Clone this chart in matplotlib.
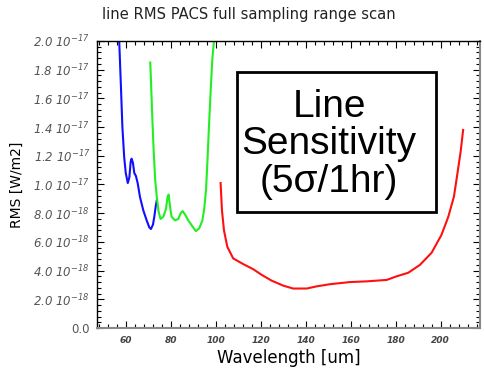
import matplotlib
matplotlib.use("Agg")
import matplotlib.pyplot as plt
from matplotlib.patches import Rectangle
from matplotlib.ticker import MultipleLocator, FuncFormatter

plt.rcParams["mathtext.fontset"] = "custom"
plt.rcParams["mathtext.rm"] = "DejaVu Sans:italic"
plt.rcParams["mathtext.it"] = "DejaVu Sans:italic"
plt.rcParams["mathtext.default"] = "rm"

# RMS in units of 1e-18 W/m2, wavelength in um
blue_wl = [56.8, 57.0, 57.8, 58.4, 59.2, 59.9, 60.8, 61.5, 62.1, 62.5, 63.1, 63.7,
           64.4, 65.2, 66.2, 67.7, 69.2, 70.4, 71.1, 72.0, 72.6, 73.2, 73.7]
blue_rms = [20.5, 19.95, 16.6, 14.0, 11.9, 10.8, 10.1, 10.5, 11.6, 11.8, 11.5, 10.8,
            10.6, 10.1, 9.15, 8.2, 7.5, 7.0, 6.9, 7.2, 7.75, 8.45, 8.9]

green_wl = [70.8, 71.1, 71.7, 72.3, 73.0, 73.7, 74.5, 75.4, 76.6, 77.8, 78.5, 79.0,
            79.6, 80.3, 81.8, 83.3, 84.3, 85.2, 86.3, 87.7, 89.7, 91.1, 92.6, 94.0,
            94.8, 95.6, 96.2, 96.9, 97.7, 98.4, 99.1, 99.3]
green_rms = [18.5, 17.3, 14.7, 12.4, 10.3, 9.15, 8.1, 7.6, 7.75, 8.3, 9.15, 9.3,
             8.45, 7.75, 7.5, 7.6, 8.0, 8.15, 7.9, 7.5, 7.05, 6.75, 6.95, 7.5,
             8.3, 9.6, 11.5, 14.0, 16.6, 18.7, 19.95, 20.5]

red_wl = [102.1, 102.7, 103.6, 105.1, 107.7, 112.2, 116.6, 120.4, 124.8, 130.0,
          134.4, 140.4, 144.8, 150.7, 159.6, 167.1, 176.0, 180.4, 185.6, 190.8,
          196.0, 200.4, 203.4, 205.9, 207.4, 208.9, 210.0]
red_rms = [10.1, 8.2, 6.8, 5.65, 4.85, 4.45, 4.1, 3.7, 3.3, 2.95,
           2.75, 2.75, 2.9, 3.05, 3.2, 3.25, 3.35, 3.6, 3.85, 4.4,
           5.25, 6.5, 7.75, 9.15, 10.7, 12.3, 13.8]

fig = plt.figure(figsize=(4.84, 3.74), dpi=100)
ax = fig.add_axes([0.2004, 0.123, 0.7913, 0.7674])

for wl, rms, col in [(blue_wl, blue_rms, "#1010ff"),
                     (green_wl, green_rms, "#22ee22"),
                     (red_wl, red_rms, "#ff1010")]:
    ax.plot(wl, [v * 1e-18 for v in rms], color=col, lw=1.5)

ax.set_xlim(47.1, 217.5)
ax.set_ylim(0, 2.0e-17)

ax.xaxis.set_major_locator(MultipleLocator(20))
ax.xaxis.set_minor_locator(MultipleLocator(4))
ax.yaxis.set_major_locator(MultipleLocator(2e-18))
ax.yaxis.set_minor_locator(MultipleLocator(4e-19))


def yfmt(v, pos):
    if abs(v) < 1e-30:
        return "0.0"
    exp = -17 if v >= 9.99e-18 else -18
    return r"$%.1f\ 10^{%d}$" % (v / 10.0 ** exp, exp)


ax.yaxis.set_major_formatter(FuncFormatter(yfmt))
ax.tick_params(which="both", direction="in", top=True, right=True, width=0.8)
ax.tick_params(which="major", length=5)
ax.tick_params(which="minor", length=3)
ax.tick_params(axis="y", labelsize=8.5, labelcolor="#555555", pad=5)
ax.tick_params(axis="x", labelsize=6.5, labelcolor="#444444", pad=6)
for lbl in ax.get_xticklabels():
    lbl.set_fontstyle("italic")
    lbl.set_fontweight("bold")

for s in ["left", "top"]:
    ax.spines[s].set_color("black")
    ax.spines[s].set_linewidth(1.0)
for s in ["bottom", "right"]:
    ax.spines[s].set_color("#888888")
    ax.spines[s].set_linewidth(1.5)

ax.set_xlabel("Wavelength [um]", fontsize=12, labelpad=3)
ax.set_ylabel("RMS [W/m2]", fontsize=10, labelpad=7)
fig.text(0.515, 0.962, "line RMS PACS full sampling range scan",
         ha="center", va="center", fontsize=10.6, color="#222222")

ax.add_patch(Rectangle((0.3648, 0.403), 0.5202, 0.488, transform=ax.transAxes,
                       fill=False, edgecolor="black", lw=2, zorder=5))
ax.text(0.606, 0.640, "Line\nSensitivity\n(5σ/1hr)", transform=ax.transAxes,
        ha="center", va="center", multialignment="center", fontsize=28,
        family="Liberation Sans", linespacing=1.06, zorder=6)

fig.savefig("out.png", dpi=100)
